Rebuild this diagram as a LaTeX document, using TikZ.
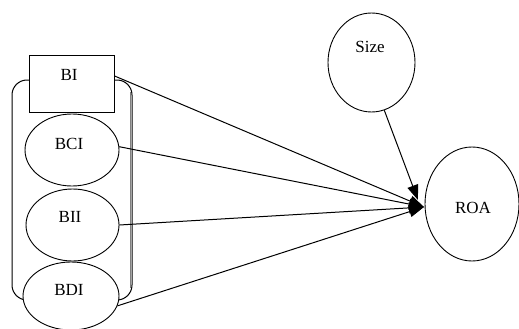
\documentclass[tikz,border=0pt]{standalone}
\usepackage{fontspec}
\setmainfont{Liberation Serif}
\usetikzlibrary{shapes.geometric,arrows.meta}
\begin{document}
\begin{tikzpicture}[x=1pt,y=-1pt,
  lab/.style={font=\fontsize{17}{19}\selectfont, inner sep=0pt},
  ell/.style={draw, ellipse, fill=white, inner sep=0pt, line width=0.9pt},
  arr/.style={-{Triangle[length=15pt,width=11pt]}, line width=1pt}]
\useasboundingbox (0,0) rectangle (519,329);
% group bracket
\draw[line width=1pt, rounded corners=15pt] (12,80) rectangle (132,300);
\draw[line width=0.6pt, gray] (130.5,92) -- (130.5,288);
% nodes
\node[draw, fill=white, line width=0.9pt, minimum width=85pt, minimum height=57pt, inner sep=0pt] (BI) at (71.5,83.5) {};
\node[ell, minimum width=94pt, minimum height=72pt] (BCI) at (72,150) {};
\node[ell, minimum width=93pt, minimum height=72pt] (BII) at (72.5,225) {};
\node[ell, minimum width=96pt, minimum height=68pt] (BDI) at (71,296) {};
\node[ell, minimum width=87pt, minimum height=99pt] (Size) at (371.5,62.5) {};
\node[ell, minimum width=94pt, minimum height=114pt] (ROA) at (472,204) {};
% texts
\node[lab] (tBI) at (69,75) {BI};
\node[lab] (tBCI) at (69,144) {BCI};
\node[lab] (tBII) at (70,217) {BII};
\node[lab] (tBDI) at (69,290) {BDI};
\node[lab] (tSize) at (370,47) {Size};
\node[lab] (tROA) at (473,208) {ROA};
% connectors
\coordinate (tip) at (424,207);
\coordinate (tipS) at (418,200);
\draw[arr] (BI.10) -- (tip);
\draw[arr] (BCI.4) -- (tip);
\draw[arr] (BII.east) -- (tip);
\draw[arr] (BDI.-12) -- (tip);
\draw[arr] (Size.-75) -- (tipS);
\end{tikzpicture}
\end{document}
